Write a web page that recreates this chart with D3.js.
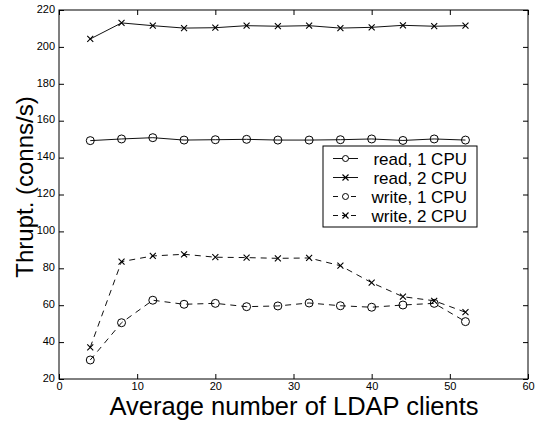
<!DOCTYPE html>
<html><head><meta charset="utf-8">
<script src="https://cdn.jsdelivr.net/npm/d3@7"></script>
<style>body{margin:0;background:#fff}svg{display:block}text{font-family:Arial,"Liberation Sans",Helvetica,sans-serif;fill:#000}</style>
</head><body><svg id="c" width="538" height="424"></svg>
<script>
const clients = [4,8,12,16,20,24,28,32,36,40,44,48,52];
const read1 = [149.2,150.1,150.8,149.5,149.7,149.9,149.5,149.5,149.7,150.1,149.3,150.1,149.5];
const read2 = [204.3,213.0,211.5,210.2,210.4,211.5,211.2,211.5,210.2,210.6,211.7,211.2,211.5];
const write1 = [30.3,50.5,62.7,60.5,61.0,59.2,59.6,61.2,59.7,58.9,60.1,61.0,51.1];
const write2 = [37.2,83.6,86.7,87.6,86.0,85.8,85.4,85.6,81.4,72.2,64.6,62.4,56.2];
const seriesNames = ["read, 1 CPU","read, 2 CPU","write, 1 CPU","write, 2 CPU"];
const xTicks = [0,10,20,30,40,50,60];
const yTicks = [20,40,60,80,100,120,140,160,180,200,220];
const xLabel = "Average number of LDAP clients";
const yLabel = "Thrupt. (conns/s)";

const svg = d3.select("#c");
const L=59, R=528, T=10, B=379;
const x = d3.scaleLinear().domain([0,60]).range([L,R]);
const y = d3.scaleLinear().domain([20,220]).range([B,T]);

const series = [
  {name:seriesNames[0], v:read1, dash:null, m:"o"},
  {name:seriesNames[1], v:read2, dash:null, m:"x"},
  {name:seriesNames[2], v:write1, dash:"6,5", m:"o"},
  {name:seriesNames[3], v:write2, dash:"6,5", m:"x"}
];

svg.append("rect").attr("x",L).attr("y",T).attr("width",R-L).attr("height",B-T)
  .attr("fill","none").attr("stroke","#000").attr("stroke-width",1);

const tl=5;
const gx = svg.append("g").attr("transform",`translate(0,${B})`)
  .call(d3.axisBottom(x).tickValues(xTicks).tickSizeInner(-tl).tickSizeOuter(0).tickPadding(3));
const gxt = svg.append("g").attr("transform",`translate(0,${T})`)
  .call(d3.axisTop(x).tickValues(xTicks).tickSizeInner(-tl).tickSizeOuter(0).tickFormat(""));
const gy = svg.append("g").attr("transform",`translate(${L},0)`)
  .call(d3.axisLeft(y).tickValues(yTicks).tickSizeInner(-tl).tickSizeOuter(0).tickPadding(4));
const gyr = svg.append("g").attr("transform",`translate(${R},0)`)
  .call(d3.axisRight(y).tickValues(yTicks).tickSizeInner(-tl).tickSizeOuter(0).tickFormat(""));
[gx,gxt,gy,gyr].forEach(g=>{g.select(".domain").remove();g.selectAll("line").attr("stroke","#000");
  g.selectAll("text").attr("font-size",11).attr("font-family","Arial, 'Liberation Sans', sans-serif").attr("fill","#000");});
gy.selectAll("text").attr("dy","0.2em");

const line = d3.line().x((d,i)=>x(clients[i])).y(d=>y(d));
function marker(g, m, cx, cy){
  if(m==="o") g.append("circle").attr("cx",cx).attr("cy",cy).attr("r",4)
     .attr("fill","none").attr("stroke","#000").attr("stroke-width",1);
  else { const s=3;
    g.append("path").attr("d",`M${cx-s},${cy-s}L${cx+s},${cy+s}M${cx-s},${cy+s}L${cx+s},${cy-s}`)
     .attr("stroke","#000").attr("stroke-width",1.1).attr("fill","none"); }
}
series.forEach(s=>{
  svg.append("path").datum(s.v).attr("d",line).attr("fill","none").attr("stroke","#111")
    .attr("stroke-width",1).attr("stroke-dasharray",s.dash);
  const g=svg.append("g");
  s.v.forEach((d,i)=>marker(g,s.m,x(clients[i]),y(d)));
});

const lg = svg.append("g");
lg.append("rect").attr("x",323).attr("y",146).attr("width",154).attr("height",81)
  .attr("fill","#fff").attr("stroke","#000").attr("stroke-width",1);
series.forEach((s,i)=>{
  const cy=158.5+i*19;
  lg.append("line").attr("x1",333).attr("x2",358).attr("y1",cy).attr("y2",cy)
    .attr("stroke","#111").attr("stroke-width",1).attr("stroke-dasharray",s.dash?"5,4":null);
  const mg=lg.append("g");
  if(s.m==="o"){mg.append("circle").attr("cx",345.5).attr("cy",cy).attr("r",3).attr("fill","#fff").attr("stroke","#000");}
  else marker(mg,"x",345.5,cy);
  lg.append("text").attr("x",467).attr("y",cy).attr("dy","0.36em").attr("text-anchor","end")
    .attr("font-size",17).text(s.name);
});

svg.append("text").attr("x",294).attr("y",415).attr("text-anchor","middle").attr("font-size",25.5).text(xLabel);
svg.append("text").attr("transform",`translate(33,187) rotate(-90)`).attr("text-anchor","middle")
  .attr("font-size",24).text(yLabel);
</script></body></html>
